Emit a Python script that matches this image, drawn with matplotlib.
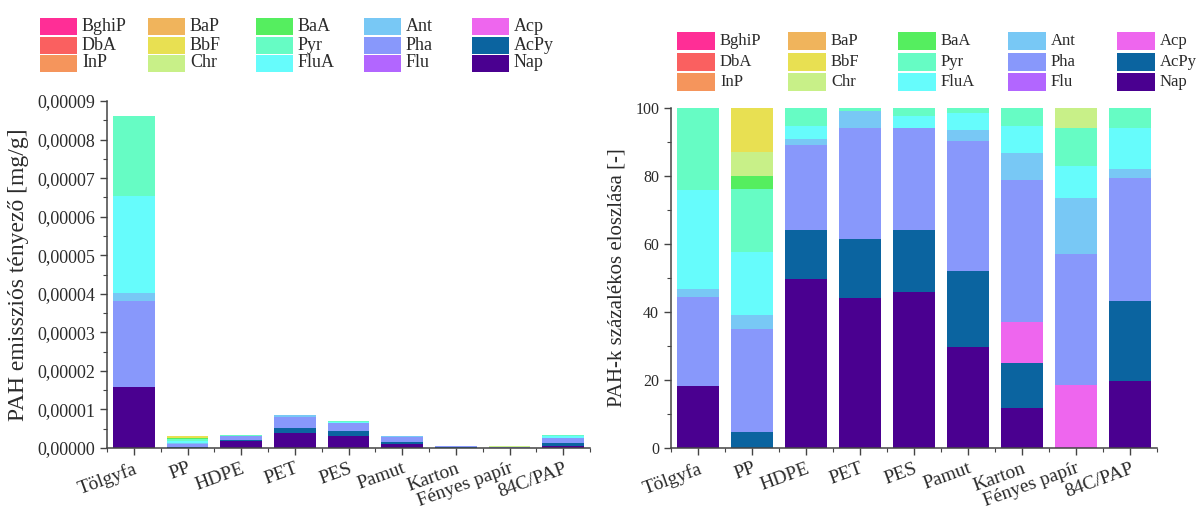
import matplotlib
matplotlib.use("Agg")
import matplotlib.pyplot as plt
from matplotlib.patches import Rectangle
from matplotlib.ticker import MultipleLocator, FuncFormatter, FixedLocator
import numpy as np

plt.rcParams["font.family"] = ["Liberation Serif", "DejaVu Serif"]
plt.rcParams["text.color"] = "#2b2b2b"
plt.rcParams["axes.labelcolor"] = "#2b2b2b"
plt.rcParams["xtick.color"] = "#444444"
plt.rcParams["ytick.color"] = "#444444"
plt.rcParams["xtick.labelcolor"] = "#2b2b2b"
plt.rcParams["ytick.labelcolor"] = "#2b2b2b"

samples = ["Tölgyfa", "PP", "HDPE", "PET", "PES", "Pamut", "Karton",
           "Fényes papír", "84C/PAP"]

# total PAH emission factor of each sample [mg/g]
total_ef = [8.6e-5, 3.1e-6, 3.4e-6, 8.6e-6, 6.9e-6, 3.2e-6, 0.6e-6, 0.4e-6, 3.3e-6]

# share of each compound in the total [%], listed from the bottom of the stack
nap   = [18.3, 0.0, 49.7, 44.0, 45.8, 29.6, 11.8, 0.0, 19.6]
acpy  = [0.0, 4.7, 14.3, 17.5, 18.2, 22.4, 13.2, 0.0, 23.6]
acp   = [0.0, 0.0, 0.0, 0.0, 0.0, 0.0, 12.0, 18.6, 0.0]
flu   = [0.0, 0.0, 0.0, 0.0, 0.0, 0.0, 0.0, 0.0, 0.0]
pha   = [26.1, 30.2, 25.0, 32.5, 30.0, 38.2, 41.7, 38.4, 36.1]
ant   = [2.3, 4.1, 2.0, 5.0, 0.0, 3.4, 8.0, 16.4, 2.9]
flua  = [29.3, 18.7, 3.7, 0.0, 3.6, 4.9, 8.0, 9.4, 11.8]
pyr   = [24.0, 18.6, 5.3, 1.0, 2.4, 1.5, 5.3, 11.2, 6.0]
baa   = [0.0, 3.7, 0.0, 0.0, 0.0, 0.0, 0.0, 0.0, 0.0]
chr_  = [0.0, 7.0, 0.0, 0.0, 0.0, 0.0, 0.0, 6.0, 0.0]
bbf   = [0.0, 13.0, 0.0, 0.0, 0.0, 0.0, 0.0, 0.0, 0.0]
bap   = [0.0] * 9
inp   = [0.0] * 9
dba   = [0.0] * 9
bghip = [0.0] * 9

compounds = ["Nap", "AcPy", "Acp", "Flu", "Pha", "Ant", "FluA", "Pyr",
             "BaA", "Chr", "BbF", "BaP", "InP", "DbA", "BghiP"]
shares = [nap, acpy, acp, flu, pha, ant, flua, pyr, baa, chr_, bbf, bap, inp, dba, bghip]
colors = ["#4a0090", "#0b64a0", "#ee66ee", "#b266ff", "#8898fb", "#78c8f5",
          "#66fcfc", "#66fcc4", "#55ee5f", "#c8f088", "#e8e052", "#f0b45c",
          "#f5955c", "#fa6060", "#ff2e96"]

W, H = 1199, 517
fig = plt.figure(figsize=(W / 100, H / 100), dpi=100)


def px_rect(x0, y0, x1, y1):
    return [x0 / W, 1 - y1 / H, (x1 - x0) / W, (y1 - y0) / H]


ax1 = fig.add_axes(px_rect(107, 101, 590, 448))
ax2 = fig.add_axes(px_rect(671, 108, 1157, 448))

x = np.arange(1, len(samples) + 1)
bw = 0.78

pct = np.array(shares, dtype=float)
ef = pct / 100.0 * np.array(total_ef)

for ax, data in ((ax1, ef), (ax2, pct)):
    bottom = np.zeros(len(samples))
    for vals, col in zip(data, colors):
        ax.bar(x, vals, bw, bottom=bottom, color=col, linewidth=0)
        bottom += vals

# left: emission factors
ax1.set_ylim(0, 9e-5)
ax1.yaxis.set_major_locator(MultipleLocator(1e-5))
ax1.yaxis.set_minor_locator(MultipleLocator(5e-6))
ax1.yaxis.set_major_formatter(FuncFormatter(lambda v, p: f"{v:.5f}".replace(".", ",")))
ax1.set_ylabel("PAH emissziós tényező [mg/g]", fontsize=17, labelpad=6)
ax1.tick_params(axis="y", labelsize=13)

# right: percentage distribution
ax2.set_ylim(0, 100)
ax2.yaxis.set_major_locator(MultipleLocator(20))
ax2.yaxis.set_minor_locator(MultipleLocator(10))
ax2.set_ylabel("PAH-k százalékos eloszlása [-]", fontsize=15, labelpad=6)
ax2.tick_params(axis="y", labelsize=11.5)

for ax in (ax1, ax2):
    ax.set_xlim(0.5, len(samples) + 0.5)
    ax.set_xticks(x)
    ax.xaxis.set_minor_locator(FixedLocator(np.arange(0.5, len(samples) + 1, 1.0)))
    ax.set_xticklabels(samples, rotation=20, ha="right", rotation_mode="anchor",
                       fontsize=14)
    for lab in ax.get_xticklabels():
        lab.set_transform(lab.get_transform() +
                          matplotlib.transforms.ScaledTranslation(6 / 100, 0, fig.dpi_scale_trans))
    ax.tick_params(which="major", direction="out", length=5, width=1)
    ax.tick_params(which="minor", direction="out", length=3, width=0.8)
    ax.spines["top"].set_visible(False)
    ax.spines["right"].set_visible(False)
    for s in ("left", "bottom"):
        ax.spines[s].set_color("#444444")
        ax.spines[s].set_linewidth(1.1)

# legends: 5 columns x 3 rows, column-major from the top of the stack
order = list(range(len(compounds)))[::-1]


def draw_legend(col_x, row_y, pw, ph, fs):
    for k, idx in enumerate(order):
        c, r = divmod(k, 3)
        x0 = col_x[c]
        yc = row_y[r]
        fig.add_artist(Rectangle((x0 / W, 1 - (yc + ph / 2) / H), pw / W, ph / H,
                                 transform=fig.transFigure, facecolor=colors[idx],
                                 edgecolor="none"))
        fig.text((x0 + pw + 5) / W, 1 - yc / H, compounds[idx], fontsize=fs,
                 va="center", ha="left")


draw_legend([40, 148, 256, 364, 472], [26.5, 45, 63], 37, 17, 13)
draw_legend([677, 788, 898, 1008, 1117], [41, 62, 82], 38, 18, 12)

fig.savefig("out.png", dpi=100)
